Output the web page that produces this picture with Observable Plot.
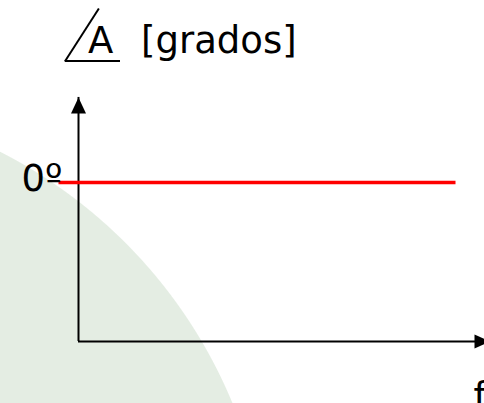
<!DOCTYPE html>
<html><head><meta charset="utf-8">
<script src="https://cdn.jsdelivr.net/npm/d3@7"></script>
<script src="https://cdn.jsdelivr.net/npm/@observablehq/plot@0.6"></script>
<style>
html,body{margin:0;padding:0;width:484px;height:403px;overflow:hidden;background:#fff;}
#wrap{position:relative;width:484px;height:403px;overflow:hidden;
 background: radial-gradient(circle 494px at -224px 592px, #e4ede3 493.5px, #ffffff 494.5px);}
#wrap svg{position:absolute;left:0;top:0;}
.t{position:absolute;font-family:"DejaVu Sans";font-size:37px;line-height:37px;white-space:nowrap;color:#000;top:22px;}
#angU{position:absolute;left:65px;top:60px;width:55px;height:2px;background:#000;}
#angS{position:absolute;left:64px;top:-2px;width:2px;height:63px;background:#000;transform-origin:0 100%;transform:rotate(32.7deg);}
</style>
</head><body>
<div id="wrap">
  <div id="title"><span class="t" style="left:88px">A</span><span class="t" style="left:141px">[grados]</span><div id="angU"></div><div id="angS"></div></div>
</div>
<script>
// Data
const freq = [-0.05, 0.9425];      // frequency extent of the plotted phase
const phase = [0, 0];              // phase in degrees (constant 0º)
const yTickValues = [0];
const yTickLabels = ["0º"];
const xAxisLabel = "f";
const xAxisExtent = [0, 1.03];     // horizontal axis from origin to arrow tip
const yAxisExtent = [-1, 0.535];   // vertical axis from origin to arrow tip

const lineData = freq.map((f, i) => ({f, phase: phase[i]}));
const ticks = yTickValues.map((v, i) => ({v, label: yTickLabels[i]}));

const arrowUp = {draw(ctx) { ctx.moveTo(0, 0); ctx.lineTo(7.5, 16); ctx.lineTo(-7.5, 16); ctx.closePath(); }};
const arrowRight = {draw(ctx) { ctx.moveTo(0, 0); ctx.lineTo(-16, -7); ctx.lineTo(-16, 7); ctx.closePath(); }};

const font = "DejaVu Sans";
const chart = Plot.plot({
  width: 484, height: 403,
  marginLeft: 78, marginRight: 6, marginTop: 23, marginBottom: 62,
  x: {domain: [0, 1], axis: null},
  y: {domain: [-1, 1], axis: null},
  style: {background: "transparent"},
  marks: [
    Plot.ruleY([yAxisExtent[0]], {x1: xAxisExtent[0], x2: xAxisExtent[1], stroke: "#000", strokeWidth: 2}),
    Plot.ruleX([xAxisExtent[0]], {y1: yAxisExtent[0], y2: yAxisExtent[1], stroke: "#000", strokeWidth: 2}),
    Plot.dot([{x: xAxisExtent[0], y: yAxisExtent[1]}], {x: "x", y: "y", symbol: arrowUp, fill: "#000", stroke: "none"}),
    Plot.dot([{x: xAxisExtent[1], y: yAxisExtent[0]}], {x: "x", y: "y", symbol: arrowRight, fill: "#000", stroke: "none"}),
    Plot.line(lineData, {x: "f", y: "phase", stroke: "#ff0000", strokeWidth: 3.5, strokeLinecap: "butt"}),
    Plot.text(ticks, {x: xAxisExtent[0], y: "v", text: "label", textAnchor: "end", lineAnchor: "bottom", dx: -16, dy: 8, fontSize: 37, fontFamily: font, fill: "#000"}),
    Plot.text([xAxisLabel], {x: 1, y: yAxisExtent[0], text: d => d, textAnchor: "start", lineAnchor: "bottom", dx: -5, dy: 67, fontSize: 37, fontFamily: font, fill: "#000"})
  ]
});
document.getElementById("wrap").appendChild(chart);
</script>
</body></html>
